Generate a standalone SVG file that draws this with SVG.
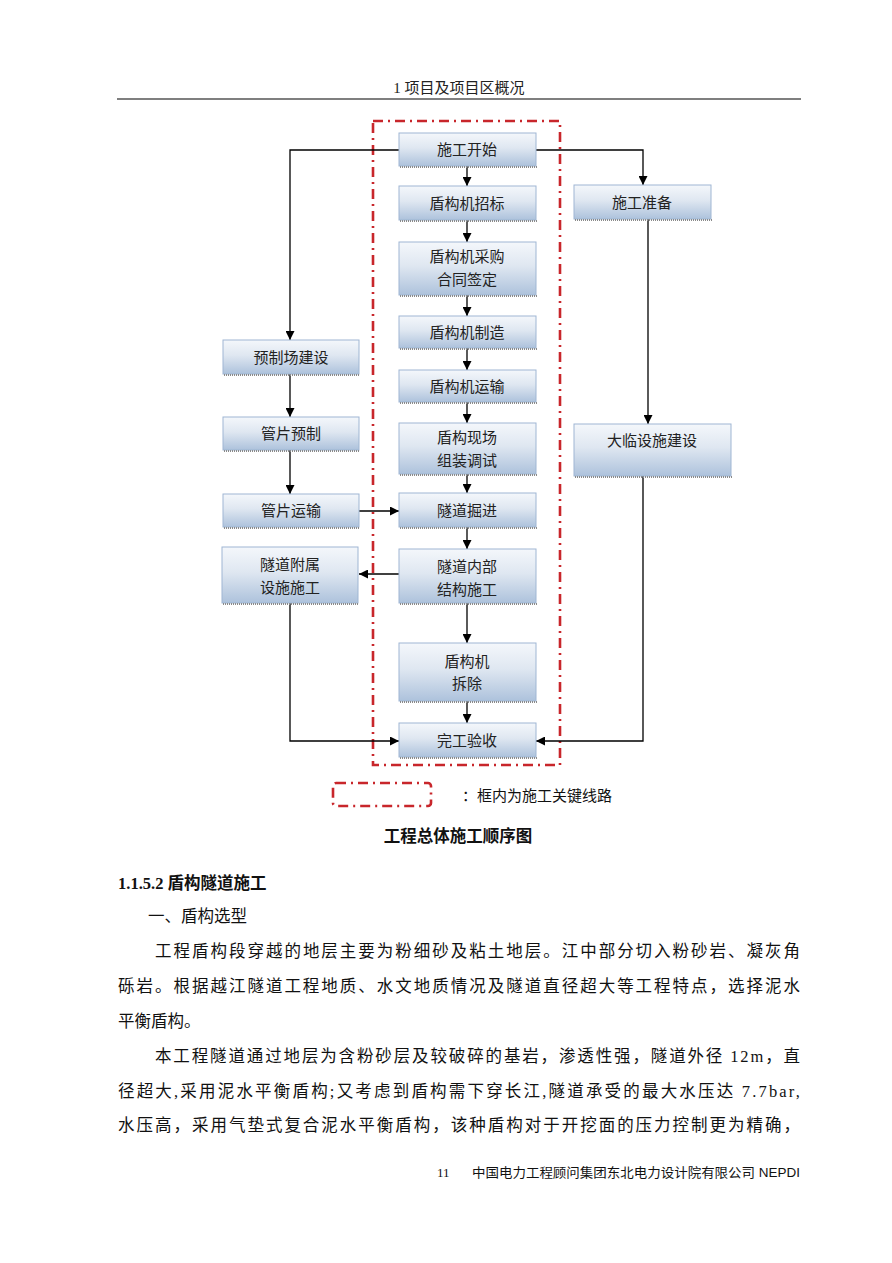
<svg xmlns="http://www.w3.org/2000/svg" width="892" height="1263" viewBox="0 0 892 1263">
<defs>
<linearGradient id="g" x1="0" y1="0" x2="0" y2="1">
<stop offset="0" stop-color="#f4f7fb"/>
<stop offset="0.45" stop-color="#dfe7f1"/>
<stop offset="1" stop-color="#adc2dc"/>
</linearGradient>
<marker id="a" viewBox="0 0 10 10" refX="10" refY="5" markerWidth="9" markerHeight="9" markerUnits="userSpaceOnUse" orient="auto">
<path d="M0,0 L10,5 L0,10 z" fill="#000"/>
</marker>
</defs>
<style>
.bx{fill:url(#g);stroke:#9fb6d3;stroke-width:1}
.sh{fill:none;stroke:#8a8a8a;stroke-width:2;stroke-dasharray:1 1}
.t{font-family:"Liberation Serif","Noto Sans CJK SC",serif;font-size:15px;fill:#222;text-anchor:middle}
.c{fill:none;stroke:#000;stroke-width:1.3}
.ca{fill:none;stroke:#000;stroke-width:1.3;marker-end:url(#a)}
.red{fill:none;stroke:#c8262b;stroke-width:2.6;stroke-dasharray:10 5 2 5}
.p{font-family:"Liberation Serif","Noto Sans CJK SC",serif;font-size:16.5px;fill:#111}
</style>
<rect width="892" height="1263" fill="#fff"/>
<g id="header">
<text x="459" y="93" class="t" style="font-size:15px">1 项目及项目区概况</text>
<line x1="117" y1="99" x2="801" y2="99" stroke="#555" stroke-width="1.6"/>
</g>
<g id="critical-frame">
<rect x="373" y="121" width="187" height="644" class="red"/>
</g>
<g id="connectors">
<polyline points="399,150 290,150 290,340" class="ca"/>
<polyline points="536,150 643,150 643,185" class="ca"/>
<line x1="648" y1="219" x2="648" y2="424" class="ca"/>
<polyline points="643,476 643,741 536,741" class="ca"/>
<line x1="290" y1="374" x2="290" y2="417" class="ca"/>
<line x1="290" y1="450" x2="290" y2="494" class="ca"/>
<line x1="359" y1="511" x2="399" y2="511" class="ca"/>
<line x1="399" y1="574" x2="359" y2="574" class="ca"/>
<polyline points="290,603 290,741 399,741" class="ca"/>
<line x1="467" y1="166" x2="467" y2="186" class="ca"/>
<line x1="467" y1="220" x2="467" y2="242" class="ca"/>
<line x1="467" y1="295" x2="467" y2="316" class="ca"/>
<line x1="467" y1="348" x2="467" y2="370" class="ca"/>
<line x1="467" y1="402" x2="467" y2="423" class="ca"/>
<line x1="467" y1="474" x2="467" y2="493" class="ca"/>
<line x1="467" y1="527" x2="467" y2="549" class="ca"/>
<line x1="467" y1="603" x2="467" y2="643" class="ca"/>
<line x1="467" y1="701" x2="467" y2="723" class="ca"/>
</g>
<g id="n-start"><rect x="399" y="133" width="137" height="33" class="bx"/><line x1="400" y1="167" x2="537" y2="167" class="sh"/><text x="467" y="155" class="t">施工开始</text></g>
<g id="n-bid"><rect x="399" y="186" width="137" height="34" class="bx"/><line x1="400" y1="221" x2="537" y2="221" class="sh"/><text x="467" y="208.5" class="t">盾构机招标</text></g>
<g id="n-purchase"><rect x="399" y="242" width="137" height="53" class="bx"/><line x1="400" y1="296" x2="537" y2="296" class="sh"/><text x="467" y="262" class="t">盾构机采购</text><text x="467" y="285" class="t">合同签定</text></g>
<g id="n-make"><rect x="399" y="316" width="137" height="32" class="bx"/><line x1="400" y1="349" x2="537" y2="349" class="sh"/><text x="467" y="337.5" class="t">盾构机制造</text></g>
<g id="n-transport"><rect x="399" y="370" width="137" height="32" class="bx"/><line x1="400" y1="403" x2="537" y2="403" class="sh"/><text x="467" y="391.5" class="t">盾构机运输</text></g>
<g id="n-assemble"><rect x="399" y="423" width="137" height="51" class="bx"/><line x1="400" y1="475" x2="537" y2="475" class="sh"/><text x="467" y="442.5" class="t">盾构现场</text><text x="467" y="465.5" class="t">组装调试</text></g>
<g id="n-tunnel"><rect x="399" y="493" width="137" height="34" class="bx"/><line x1="400" y1="528" x2="537" y2="528" class="sh"/><text x="467" y="515.5" class="t">隧道掘进</text></g>
<g id="n-inner"><rect x="399" y="549" width="137" height="54" class="bx"/><line x1="400" y1="604" x2="537" y2="604" class="sh"/><text x="467" y="571.5" class="t">隧道内部</text><text x="467" y="594.5" class="t">结构施工</text></g>
<g id="n-remove"><rect x="399" y="643" width="137" height="58" class="bx"/><line x1="400" y1="702" x2="537" y2="702" class="sh"/><text x="467" y="666.5" class="t">盾构机</text><text x="467" y="689" class="t">拆除</text></g>
<g id="n-finish"><rect x="399" y="723" width="137" height="34" class="bx"/><line x1="400" y1="758" x2="537" y2="758" class="sh"/><text x="467" y="745.5" class="t">完工验收</text></g>
<g id="n-yard"><rect x="223" y="340" width="136" height="34" class="bx"/><line x1="224" y1="375" x2="360" y2="375" class="sh"/><text x="291" y="362.5" class="t">预制场建设</text></g>
<g id="n-seg"><rect x="223" y="417" width="136" height="33" class="bx"/><line x1="224" y1="451" x2="360" y2="451" class="sh"/><text x="291" y="439" class="t">管片预制</text></g>
<g id="n-segtrans"><rect x="223" y="494" width="136" height="33" class="bx"/><line x1="224" y1="528" x2="360" y2="528" class="sh"/><text x="291" y="516" class="t">管片运输</text></g>
<g id="n-aux"><rect x="222" y="547" width="136" height="56" class="bx"/><line x1="223" y1="604" x2="359" y2="604" class="sh"/><text x="290" y="569.5" class="t">隧道附属</text><text x="290" y="592.5" class="t">设施施工</text></g>
<g id="n-prep"><rect x="574" y="185" width="137" height="34" class="bx"/><line x1="575" y1="220" x2="712" y2="220" class="sh"/><text x="642" y="207.5" class="t">施工准备</text></g>
<g id="n-temp"><rect x="574" y="424" width="157" height="52" class="bx"/><line x1="575" y1="477" x2="732" y2="477" class="sh"/><text x="652" y="445.5" class="t">大临设施建设</text></g>
<g id="legend">
<rect x="333" y="783" width="98" height="23" rx="3" class="red"/>
<text x="462" y="801" class="p" style="font-size:15px">：框内为施工关键线路</text>
</g>
<g id="body">
<text x="458" y="842" class="p" style="font-size:16.5px;font-weight:bold;text-anchor:middle">工程总体施工顺序图</text>
<text x="118" y="889" class="p" style="font-weight:bold">1.1.5.2 盾构隧道施工</text>
<text x="148" y="922" class="p">一、盾构选型</text>
<text x="155" y="957" class="p" textLength="645" lengthAdjust="spacing">工程盾构段穿越的地层主要为粉细砂及粘土地层。江中部分切入粉砂岩、凝灰角</text>
<text x="118" y="992" class="p" textLength="682" lengthAdjust="spacing">砾岩。根据越江隧道工程地质、水文地质情况及隧道直径超大等工程特点，选择泥水</text>
<text x="118" y="1027" class="p">平衡盾构。</text>
<text x="155" y="1062" class="p" textLength="645" lengthAdjust="spacing">本工程隧道通过地层为含粉砂层及较破碎的基岩，渗透性强，隧道外径 12m，直</text>
<text x="118" y="1097" class="p" textLength="682" lengthAdjust="spacing">径超大,采用泥水平衡盾构;又考虑到盾构需下穿长江,隧道承受的最大水压达 7.7bar,</text>
<text x="118" y="1131" class="p" textLength="682" lengthAdjust="spacing">水压高，采用气垫式复合泥水平衡盾构，该种盾构对于开挖面的压力控制更为精确，</text>
</g>
<g id="footer">
<text x="437" y="1177" class="p" style="font-size:13px">11</text>
<text x="472" y="1177" style="font-family:'Liberation Sans','Noto Sans CJK SC',sans-serif;font-size:13px;fill:#111" textLength="328" lengthAdjust="spacingAndGlyphs">中国电力工程顾问集团东北电力设计院有限公司 NEPDI</text>
</g>
</svg>
